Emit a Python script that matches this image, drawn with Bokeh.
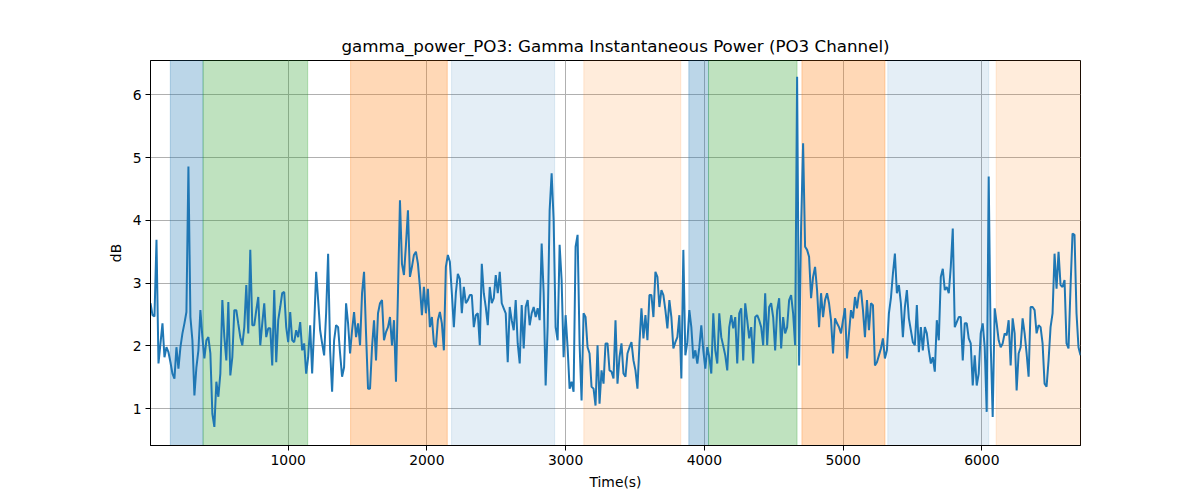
from bokeh.plotting import figure
from bokeh.models import BoxAnnotation, FixedTicker, Range1d
from bokeh.embed import file_html
from bokeh.resources import INLINE

# gamma power trace, evenly sampled between t_start and t_end (s)
t_start = 8
t_end = 6711
power_db = [
    2.68, 2.49, 2.47, 3.69, 1.72, 2.04, 2.36, 1.82, 1.98, 1.90, 1.74, 1.56, 1.48, 1.98, 1.64, 1.98,
    2.20, 2.36, 2.54, 4.86, 2.46, 2.09, 1.21, 1.66, 1.93, 2.57, 2.14, 1.80, 2.09, 2.14, 1.88, 0.92,
    0.71, 1.43, 1.19, 1.56, 2.73, 2.14, 1.77, 2.70, 1.53, 1.82, 2.57, 2.57, 2.35, 2.14, 2.01, 2.30,
    2.97, 2.20, 3.53, 2.33, 2.33, 2.57, 2.78, 2.01, 2.36, 2.68, 2.14, 2.28, 2.28, 1.69, 2.89, 1.74,
    2.41, 2.62, 2.84, 2.86, 2.30, 2.06, 2.54, 2.09, 2.06, 2.25, 2.14, 2.38, 1.93,
    2.04, 1.56, 1.82, 2.33, 1.56, 2.30, 3.18, 2.73, 2.25, 2.04, 1.85, 2.52, 3.47, 1.93, 1.27, 2.09,
    2.33, 2.30, 1.88, 1.51, 1.66, 2.68, 2.36, 1.88, 2.25, 2.54, 2.14, 2.36, 2.01, 2.84, 3.18, 2.20,
    1.32, 1.32, 1.98, 2.41, 1.77, 2.52, 2.68, 2.73, 2.09, 2.22, 2.30, 2.46, 2.01, 2.41, 1.43, 2.84,
    4.32, 3.31, 3.13, 3.61, 4.16, 3.10, 3.26, 3.45, 3.50, 3.31, 2.94, 2.49, 2.94, 2.52, 2.91,
    2.30, 2.46, 2.04, 1.98, 2.41, 2.54, 2.36, 1.93, 3.26, 3.45, 3.34, 2.84, 2.30,
    2.84, 3.15, 3.07, 2.52, 2.94, 2.68, 2.73, 2.81, 2.81, 2.30, 2.49, 2.52, 2.01, 3.31, 2.84, 2.62,
    2.33, 2.94, 2.68, 2.76, 3.13, 2.84, 3.18, 2.68, 2.60, 2.52, 1.74, 2.62, 2.41, 2.25, 2.73, 2.04,
    1.72, 2.65, 1.96, 2.62, 2.73, 2.33, 2.52, 2.62, 2.46, 2.60, 2.41, 3.63, 2.84, 1.37, 2.30, 4.16,
    4.75, 4.01, 2.30, 2.09, 3.61, 3.05, 1.82, 2.49, 1.98, 1.32, 1.43, 1.27, 3.58, 3.77, 2.04, 1.13,
    2.52, 2.46, 1.98, 1.88, 1.35, 1.32, 1.05, 2.01, 1.08, 1.61, 1.40, 2.04, 2.04, 1.61,
    1.59, 1.48, 2.41, 1.40, 1.82, 2.04, 1.56, 1.51, 1.88, 1.98, 2.06, 1.77, 1.61, 1.32, 2.04, 2.60,
    2.12, 2.49, 2.09, 2.81, 2.81, 2.46, 3.18, 3.10, 2.62, 2.89, 2.81, 2.57, 2.28, 2.73, 2.46, 1.96,
    2.06, 2.14, 2.49, 1.48, 3.53, 1.85, 2.06, 2.57, 2.30, 1.80, 1.93, 1.72, 1.98, 2.33, 1.93, 1.64,
    1.98, 1.82, 1.56, 2.52, 1.93, 1.72, 2.52, 2.14, 2.00, 1.85, 1.61, 2.30, 2.49, 2.28, 2.46, 1.72,
    2.52, 2.60, 1.77, 2.68, 2.41, 2.12, 2.30, 1.72, 2.46, 2.49, 2.41, 2.30, 2.01, 2.84, 2.01, 2.62,
    2.68, 2.46, 1.93, 2.57, 2.76, 1.96, 2.46, 2.20, 2.30, 2.73, 2.81, 2.52, 2.01, 6.29, 1.69, 3.90,
    5.23, 3.58, 3.53, 3.42, 2.76, 3.10, 3.26, 2.89, 2.30, 2.84, 2.46, 2.73, 2.84, 2.68, 2.41, 1.88,
    2.44, 2.36, 2.30, 2.20, 2.41, 2.60, 1.80, 2.20, 2.57, 2.44, 2.78, 2.60, 2.84, 2.89, 2.57, 2.14,
    2.73, 2.25, 2.68, 2.65, 1.69, 1.74, 1.85, 1.96, 2.12, 1.80, 1.93, 2.52, 2.76, 3.15, 3.47, 2.84,
    2.97, 2.68, 2.14, 2.62, 2.89, 2.44, 2.25, 2.06, 2.01, 2.65, 1.90, 2.30, 1.93,
    2.30, 2.20, 1.93, 1.72, 1.82, 1.59, 2.41, 2.09, 3.10, 3.23, 2.89, 2.94, 2.84, 3.26, 3.87, 2.30,
    2.38, 2.46, 2.46, 1.77, 2.36, 2.36, 2.12, 2.04, 1.37, 1.85, 1.37, 1.56, 2.20, 2.36, 1.98, 0.95,
    4.70, 2.04, 0.87, 2.60, 2.36, 2.09, 1.98, 2.04, 2.20, 2.17, 2.41, 1.69, 2.44, 2.20, 1.29, 1.88,
    1.98, 2.44, 2.20, 1.88, 1.51, 2.62, 2.62, 2.57, 2.20, 2.33, 2.30, 2.04, 1.40, 1.35, 1.77, 2.30,
    2.52, 3.47, 2.91, 3.50, 2.97, 2.94, 3.05, 2.04, 1.96, 2.94, 3.79, 3.77, 2.52, 1.98, 1.85,
]

# shaded task epochs (s)
span_start = [151, 387, 1450, 2178, 3131, 3888, 4030, 4703, 5322, 6103]
span_end = [387, 1141, 2147, 2921, 3830, 4030, 4668, 5302, 6050, 6711]
span_color = ["#1f77b4", "#2ca02c", "#ff7f0e", "#1f77b4", "#ff7f0e",
              "#1f77b4", "#2ca02c", "#ff7f0e", "#1f77b4", "#ff7f0e"]
span_alpha = [0.3, 0.3, 0.3, 0.12, 0.15, 0.3, 0.3, 0.3, 0.12, 0.15]

x_ticks = [1000, 2000, 3000, 4000, 5000, 6000]
y_ticks = [1, 2, 3, 4, 5, 6]

step = (t_end - t_start) / (len(power_db) - 1)
times = [t_start + i * step for i in range(len(power_db))]

p = figure(width=1184, height=492, output_backend="svg", toolbar_location=None,
           title="gamma_power_PO3: Gamma Instantaneous Power (PO3 Channel)",
           x_axis_label="Time(s)", y_axis_label="dB",
           x_range=Range1d(t_start, t_end), y_range=Range1d(0.414, 6.547),
           min_border_left=150, min_border_right=104, min_border_top=60, min_border_bottom=47)

for s, e, c, a in zip(span_start, span_end, span_color, span_alpha):
    p.add_layout(BoxAnnotation(left=s, right=e, fill_color=c, fill_alpha=a,
                               line_color=c, line_alpha=a, line_width=1, level="underlay"))

p.line(times, power_db, line_color="#1f77b4", line_width=2)

p.title.align = "center"
p.title.text_font = "DejaVu Sans"
p.title.text_font_size = "16.7px"
p.title.text_font_style = "normal"
p.title.text_color = "black"

p.xaxis.ticker = FixedTicker(ticks=x_ticks)
p.yaxis.ticker = FixedTicker(ticks=y_ticks)
for ax in (p.xaxis, p.yaxis):
    ax.major_label_text_font = "DejaVu Sans"
    ax.major_label_text_font_size = "13.9px"
    ax.major_label_text_color = "black"
    ax.axis_label_text_font = "DejaVu Sans"
    ax.axis_label_text_font_size = "13.9px"
    ax.axis_label_text_font_style = "normal"
    ax.axis_label_text_color = "black"
    ax.axis_line_color = "black"
    ax.major_tick_line_color = "black"
    ax.major_tick_out = 5
    ax.major_tick_in = 0
    ax.minor_tick_line_color = None
    ax.major_label_standoff = 4
    ax.axis_label_standoff = 6

p.grid.grid_line_color = "#b0b0b0"
p.grid.grid_line_width = 1
p.outline_line_color = "black"
p.outline_line_alpha = 1
p.outline_line_width = 1
p.background_fill_color = "white"
p.border_fill_color = "white"

open("out.html", "w").write(file_html(p, INLINE))
